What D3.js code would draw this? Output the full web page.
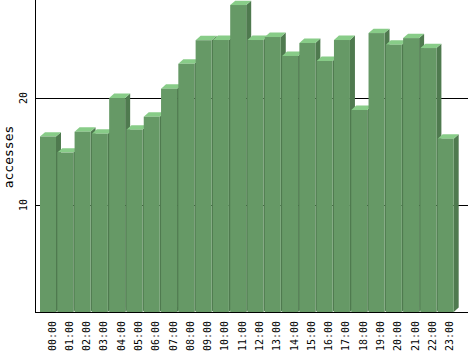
<!DOCTYPE html>
<html>
<head>
<meta charset="utf-8">
<script src="https://cdn.jsdelivr.net/npm/d3@7"></script>
<style>
  body { margin: 0; background: #fff; }
  text { font-family: "DejaVu Sans Mono", monospace; fill: #000; }
</style>
</head>
<body>
<svg id="chart" width="468" height="351"></svg>
<script>
// hours of the day and average accesses per hour
let hours = ["00:00","01:00","02:00","03:00","04:00","05:00","06:00","07:00",
             "08:00","09:00","10:00","11:00","12:00","13:00","14:00","15:00",
             "16:00","17:00","18:00","19:00","20:00","21:00","22:00","23:00"]
let accesses = [16.4, 14.9, 16.85, 16.66, 20.0, 17.04, 18.25, 20.87,
                23.2, 25.4, 25.42, 28.69, 25.42, 25.7, 23.93, 25.14,
                23.46, 25.42, 18.88, 26.07, 24.98, 25.6, 24.67, 16.2]
let yTicks = [10, 20]

let svg = d3.select('#chart')

// plot frame
let frame = {left: 35, barStart: 40, barEnd: 437.7 + 17.29, top: 0, bottom: 312, right: 468}
let depth = {dx: 5, dy: 4.4}

let x = d3.scaleBand()
          .domain(hours)
          .range([frame.barStart, frame.barEnd])
let y = d3.scaleLinear()
          .domain([0, 29.16])
          .range([frame.bottom, frame.top])

let barW = x.bandwidth() - 1.3

// gridlines (behind bars)
svg.selectAll('.grid')
   .data(yTicks)
   .enter()
   .append('line')
   .attr('x1', frame.left)
   .attr('x2', frame.right)
   .attr('y1', d => Math.round(y(d)) + 0.5)
   .attr('y2', d => Math.round(y(d)) + 0.5)
   .attr('stroke', '#000')
   .attr('shape-rendering', 'crispEdges')

// x axis baseline
svg.append('line')
   .attr('x1', frame.left)
   .attr('x2', frame.right)
   .attr('y1', frame.bottom + 0.5)
   .attr('y2', frame.bottom + 0.5)
   .attr('stroke', '#000')
   .attr('shape-rendering', 'crispEdges')

// y axis line
svg.append('line')
   .attr('x1', frame.left + 0.5)
   .attr('x2', frame.left + 0.5)
   .attr('y1', frame.top)
   .attr('y2', frame.bottom + 1)
   .attr('stroke', '#000')
   .attr('shape-rendering', 'crispEdges')

// 3d bars, drawn left to right so each front covers the previous side
let bars = svg.selectAll('.bar')
   .data(hours.map((h, i) => ({hour: h, value: accesses[i]})))
   .enter()
   .append('g')
   .attr('class', 'bar')

bars.append('path')   // side face
    .attr('fill', '#4f7a4f')
    .attr('d', d => {
      let x0 = x(d.hour) + barW, yt = y(d.value), yb = y(0)
      return `M${x0},${yt}L${x0 + depth.dx},${yt - depth.dy}L${x0 + depth.dx},${yb - depth.dy}L${x0},${yb}Z`
    })

bars.append('path')   // top face
    .attr('fill', '#88cc88')
    .attr('d', d => {
      let x0 = x(d.hour), yt = y(d.value)
      return `M${x0},${yt}L${x0 + barW},${yt}L${x0 + barW + depth.dx},${yt - depth.dy}L${x0 + depth.dx},${yt - depth.dy}Z`
    })

bars.append('rect')   // front face
    .attr('fill', '#669966')
    .attr('x', d => x(d.hour))
    .attr('y', d => y(d.value))
    .attr('width', barW)
    .attr('height', d => y(0) - y(d.value))

// y tick labels (rotated)
svg.selectAll('.ytick')
   .data(yTicks)
   .enter()
   .append('text')
   .attr('font-size', 10)
   .attr('text-anchor', 'middle')
   .attr('transform', d => `translate(26.5,${y(d)}) rotate(-90)`)
   .text(d => d)

// x tick labels (rotated)
svg.selectAll('.xtick')
   .data(hours)
   .enter()
   .append('text')
   .attr('font-size', 10)
   .attr('text-anchor', 'end')
   .attr('transform', d => `translate(${x(d) + 15.5},321) rotate(-90)`)
   .text(d => d)

// axis title
svg.append('text')
   .attr('font-size', 13)
   .attr('text-anchor', 'middle')
   .attr('transform', `translate(13,157) rotate(-90)`)
   .text('accesses')
</script>
</body>
</html>
